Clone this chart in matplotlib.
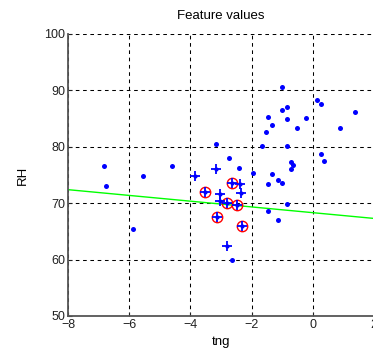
import matplotlib
matplotlib.use("Agg")
import matplotlib.pyplot as plt

plt.rcParams['font.family'] = ['Liberation Sans', 'DejaVu Sans']

# all feature points (tng, RH)
dot_x = [-6.83, -6.75, -5.55, -4.61, -5.87, -3.15, -2.73, -2.41,
         -1.02, 0.15, 0.26, 1.38, -1.02, -0.83, -1.45, -0.83, -0.21, -1.33,
         -0.53, 0.88, -1.52, -1.65, -0.83, -0.71, -0.64, -0.71, 0.26, 0.37,
         -1.95, -1.33, -1.14, -1.02, -1.45, -1.45, -1.15, -0.83, -2.65]
dot_y = [76.6, 73.0, 74.9, 76.6, 65.5, 80.55, 78.1, 76.2,
         90.55, 88.3, 87.6, 86.2, 86.6, 87.1, 85.3, 84.9, 85.1, 83.9,
         83.3, 83.3, 82.6, 80.1, 80.1, 77.25, 76.7, 76.1, 78.7, 77.4,
         75.3, 75.1, 74.2, 73.5, 73.4, 68.7, 67.1, 69.9, 59.9]

# selected points (plus markers)
plus_x = [-3.84, -3.15, -3.52, -2.63, -2.38, -2.36, -3.03, -3.02, -2.81, -2.49, -3.13, -2.32, -2.81]
plus_y = [74.8, 76.1, 71.9, 73.5, 73.4, 71.75, 71.6, 70.4, 70.0, 69.6, 67.5, 66.0, 62.5]

# highlighted points (red circles)
circ_x = [-3.52, -2.63, -2.81, -2.49, -3.13, -2.32]
circ_y = [71.9, 73.5, 70.0, 69.6, 67.5, 66.0]

# fitted line
line_x = [-8, 2]
line_y = [72.4, 67.3]

xticks = [-8, -6, -4, -2, 0, 2]
yticks = [50, 60, 70, 80, 90, 100]

fig = plt.figure(figsize=(3.73, 3.58), dpi=100)
ax = fig.add_axes([68 / 373, 42 / 358, 306 / 373, 282 / 358])

ax.plot(dot_x, dot_y, 'o', color='blue', markersize=3.6, markeredgewidth=0, zorder=3)
ax.plot(line_x, line_y, '-', color=(0, 1, 0), linewidth=1, zorder=2)
ax.plot(circ_x, circ_y, 'o', markerfacecolor='none', markeredgecolor='red',
        markersize=7.5, markeredgewidth=1, zorder=4)
ax.plot(plus_x, plus_y, '+', color='blue', markersize=7.5, markeredgewidth=1.3, zorder=5)
ax.plot(plus_x, plus_y, 'o', color='blue', markersize=3, markeredgewidth=0, zorder=5)

ax.set_xlim(-8, 2)
ax.set_ylim(50, 100)
ax.set_xticks(xticks)
ax.set_yticks(yticks)
ax.grid(True, color='black', linestyle=(0, (3.5, 3.5)), linewidth=0.75)
ax.set_axisbelow(True)

for s in ['top', 'right']:
    ax.spines[s].set_visible(False)
for s in ['left', 'bottom']:
    ax.spines[s].set_color('#555555')
    ax.spines[s].set_linewidth(1.3)

ax.tick_params(direction='in', length=3, labelsize=9, colors='#222222', pad=2)

ax.set_title('Feature values', fontsize=9.5, pad=11)
ax.set_xlabel('tng', fontsize=9.5, labelpad=4)
ax.set_ylabel('RH', fontsize=9.5, labelpad=11)

fig.savefig('out.png', dpi=100)
